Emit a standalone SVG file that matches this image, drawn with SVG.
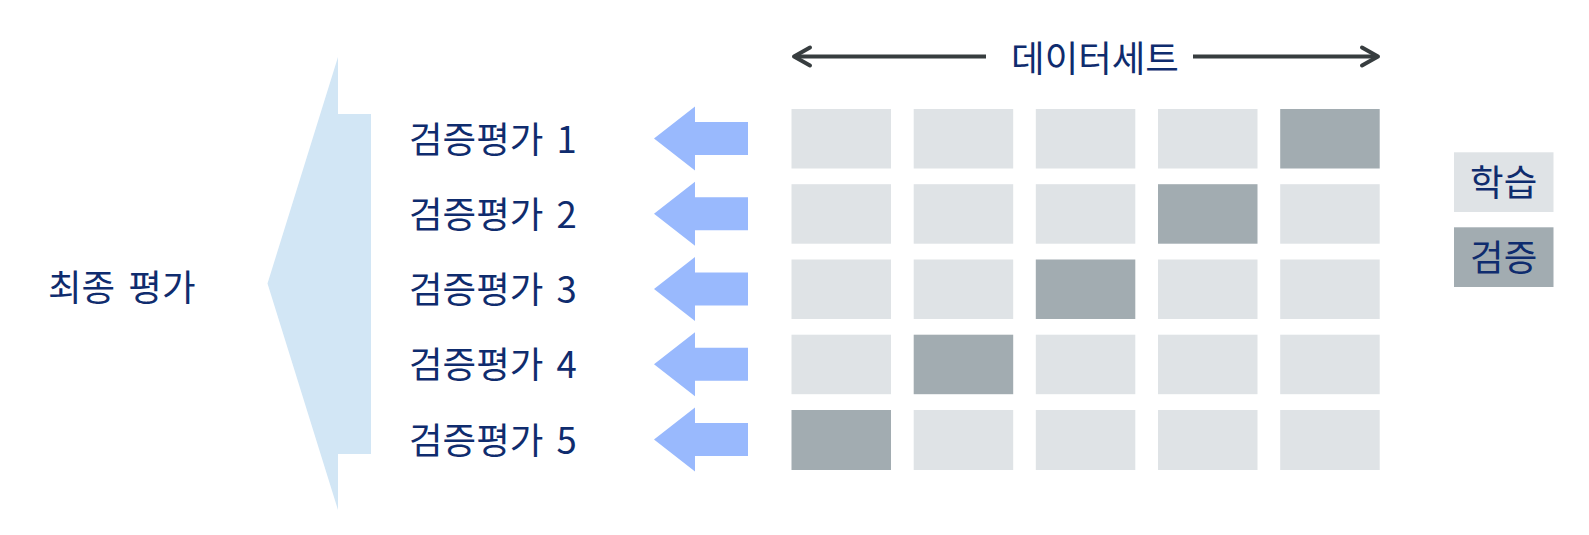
<svg xmlns="http://www.w3.org/2000/svg" width="1589" height="535" viewBox="0 0 1589 535">
  <defs>
    <style>
      .t { font-family: "Noto Sans CJK KR", "Noto Sans", sans-serif; fill: #0f2c6e; font-size: 36.5px; dominant-baseline: central; word-spacing: 5px; }
      .light { fill: #dfe3e6; }
      .dark { fill: #a2acb1; }
      .sa { fill: #99b9fd; }
      .axis { stroke: #373d3f; stroke-width: 4; fill: none; }
    </style>
    <polygon id="smallArrow" points="0,0 41,-32 41,-16.5 94,-16.5 94,16.5 41,16.5 41,32" />
  </defs>
  <rect width="1589" height="535" fill="#ffffff"/>

  <g id="final-eval">
    <polygon points="338,57 338,114 371,114 371,454 338,454 338,510 267.5,283.5" fill="#d2e6f5"/>
    <text class="t" x="48" y="285">최종 평가</text>
  </g>

  <g id="eval-1"><text class="t" x="409" y="137.5">검증평가 1</text></g>
  <g id="eval-2"><text class="t" x="409" y="212.5">검증평가 2</text></g>
  <g id="eval-3"><text class="t" x="409" y="287.5">검증평가 3</text></g>
  <g id="eval-4"><text class="t" x="409" y="362.5">검증평가 4</text></g>
  <g id="eval-5"><text class="t" x="409" y="438">검증평가 5</text></g>

  <g id="connectors">
    <use href="#smallArrow" class="sa" x="654" y="138.5"/>
    <use href="#smallArrow" class="sa" x="654" y="213.7"/>
    <use href="#smallArrow" class="sa" x="654" y="289"/>
    <use href="#smallArrow" class="sa" x="654" y="364.2"/>
    <use href="#smallArrow" class="sa" x="654" y="439.4"/>
    <line class="axis" x1="796" y1="56.5" x2="986" y2="56.5"/>
    <polyline class="axis" points="810,47.5 794,56.5 810,65.5" stroke-linecap="round" stroke-linejoin="round"/>
    <line class="axis" x1="1193" y1="56.5" x2="1375" y2="56.5"/>
    <polyline class="axis" points="1362,47.5 1378,56.5 1362,65.5" stroke-linecap="round" stroke-linejoin="round"/>
  </g>

  <g id="dataset-label"><text class="t" x="1095" y="56" text-anchor="middle">데이터세트</text></g>

  <g id="grid">
    <rect class="light" x="791.5" y="109" width="99.5" height="59.5"/>
    <rect class="light" x="913.7" y="109" width="99.5" height="59.5"/>
    <rect class="light" x="1035.8" y="109" width="99.5" height="59.5"/>
    <rect class="light" x="1158" y="109" width="99.5" height="59.5"/>
    <rect class="dark" x="1280.2" y="109" width="99.5" height="59.5"/>

    <rect class="light" x="791.5" y="184.2" width="99.5" height="59.5"/>
    <rect class="light" x="913.7" y="184.2" width="99.5" height="59.5"/>
    <rect class="light" x="1035.8" y="184.2" width="99.5" height="59.5"/>
    <rect class="dark" x="1158" y="184.2" width="99.5" height="59.5"/>
    <rect class="light" x="1280.2" y="184.2" width="99.5" height="59.5"/>

    <rect class="light" x="791.5" y="259.5" width="99.5" height="59.5"/>
    <rect class="light" x="913.7" y="259.5" width="99.5" height="59.5"/>
    <rect class="dark" x="1035.8" y="259.5" width="99.5" height="59.5"/>
    <rect class="light" x="1158" y="259.5" width="99.5" height="59.5"/>
    <rect class="light" x="1280.2" y="259.5" width="99.5" height="59.5"/>

    <rect class="light" x="791.5" y="334.7" width="99.5" height="59.5"/>
    <rect class="dark" x="913.7" y="334.7" width="99.5" height="59.5"/>
    <rect class="light" x="1035.8" y="334.7" width="99.5" height="59.5"/>
    <rect class="light" x="1158" y="334.7" width="99.5" height="59.5"/>
    <rect class="light" x="1280.2" y="334.7" width="99.5" height="59.5"/>

    <rect class="dark" x="791.5" y="410" width="99.5" height="60"/>
    <rect class="light" x="913.7" y="410" width="99.5" height="60"/>
    <rect class="light" x="1035.8" y="410" width="99.5" height="60"/>
    <rect class="light" x="1158" y="410" width="99.5" height="60"/>
    <rect class="light" x="1280.2" y="410" width="99.5" height="60"/>
  </g>

  <g id="legend-train">
    <rect class="light" x="1454" y="152.3" width="99.5" height="59.7"/>
    <text class="t" x="1503.7" y="180.5" text-anchor="middle">학습</text>
  </g>
  <g id="legend-val">
    <rect class="dark" x="1454" y="227.3" width="99.5" height="59.7"/>
    <text class="t" x="1503.7" y="255.5" text-anchor="middle">검증</text>
  </g>
</svg>
